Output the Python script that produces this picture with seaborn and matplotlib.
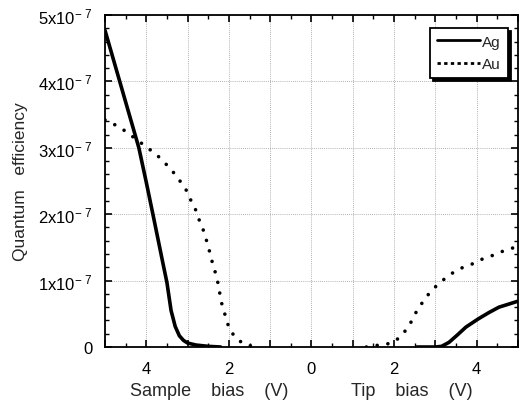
import numpy as np
import pandas as pd
import matplotlib
matplotlib.use("Agg")
import matplotlib.pyplot as plt
from matplotlib.lines import Line2D
from matplotlib.ticker import MultipleLocator, FuncFormatter
import seaborn as sns

# ---- data (bias in V; negative = sample bias, positive = tip bias; QE in 1e-7) ----
ag_sample_bias = [-5.0, -4.5, -4.18, -4.0, -3.84, -3.6, -3.5, -3.4, -3.3, -3.2, -3.1, -3.0, -2.8, -2.5, -2.2]
ag_sample_qe = [4.77, 3.69, 3.0, 2.48, 2.0, 1.27, 0.97, 0.55, 0.31, 0.17, 0.1, 0.06, 0.03, 0.01, 0.0]

ag_tip_bias = [2.55, 3.0, 3.15, 3.33, 3.53, 3.74, 4.03, 4.3, 4.54, 5.0]
ag_tip_qe = [0.0, 0.0, 0.01, 0.07, 0.18, 0.3, 0.42, 0.52, 0.6, 0.69]

au_sample_bias = [-5.0, -4.64, -4.42, -3.99, -3.74, -3.5, -3.33, -3.16, -3.02, -2.9, -2.8, -2.73,
                  -2.63, -2.56, -2.49, -2.44, -2.37, -2.32, -2.27, -2.18, -2.1, -2.05, -1.98,
                  -1.81, -1.59, -1.38]
au_sample_qe = [3.42, 3.31, 3.21, 3.01, 2.89, 2.74, 2.62, 2.48, 2.35, 2.18, 2.06, 1.93,
                1.78, 1.64, 1.5, 1.35, 1.22, 1.1, 0.98, 0.67, 0.5, 0.39, 0.26,
                0.12, 0.03, 0.01]

au_tip_bias = [1.33, 1.52, 1.81, 2.03, 2.22, 2.39, 2.51, 2.63, 2.8, 2.99, 3.21, 3.45, 3.67,
               3.89, 4.12, 4.35, 4.58, 4.8, 5.0]
au_tip_qe = [0.0, 0.02, 0.04, 0.09, 0.2, 0.35, 0.5, 0.62, 0.77, 0.9, 1.02, 1.13, 1.2,
             1.25, 1.32, 1.37, 1.43, 1.48, 1.51]

metals = ["Ag", "Au"]

sns.set_style("ticks")
plt.rcParams["font.family"] = ["Liberation Sans", "DejaVu Sans"]
plt.rcParams["mathtext.fontset"] = "custom"
plt.rcParams["mathtext.rm"] = "Liberation Sans"
plt.rcParams["mathtext.default"] = "regular"

fig = plt.figure(figsize=(5.19, 4.02), dpi=100)
ax = fig.add_axes([0.2023, 0.1343, 0.7957, 0.8259])

dotted = (0, (0.01, 3.0))
segments = [
    (ag_sample_bias, ag_sample_qe, "-", 2.6),
    (ag_tip_bias, ag_tip_qe, "-", 2.6),
    (au_sample_bias, au_sample_qe, dotted, 2.6),
    (au_tip_bias, au_tip_qe, dotted, 2.6),
]
for xs, ys, ls, lw in segments:
    df = pd.DataFrame({"bias": xs, "qe": np.array(ys) * 1e-7})
    sns.lineplot(data=df, x="bias", y="qe", ax=ax, color="black",
                 linestyle=ls, linewidth=lw, estimator=None, sort=False)
for ln in ax.get_lines():
    ln.set_dash_capstyle("round")
    ln.set_solid_capstyle("round")

ax.set_xlim(-5, 5)
ax.set_ylim(0, 5e-7)
ax.xaxis.set_major_locator(MultipleLocator(1))
ax.xaxis.set_minor_locator(MultipleLocator(0.5))
ax.yaxis.set_major_locator(MultipleLocator(1e-7))
ax.yaxis.set_minor_locator(MultipleLocator(0.2e-7))

def xfmt(v, pos):
    n = int(round(v))
    return str(abs(n)) if n % 2 == 0 and abs(n) < 5 else ""

def yfmt(v, pos):
    n = int(round(v / 1e-7))
    return "0" if n == 0 else f"{n}x10$^{{-\\ 7}}$"

ax.xaxis.set_major_formatter(FuncFormatter(xfmt))
ax.yaxis.set_major_formatter(FuncFormatter(yfmt))
ax.tick_params(which="both", direction="in", top=True, right=True, colors="black",
               labelsize=12)
ax.tick_params(which="major", length=5, width=1.2)
ax.tick_params(axis="x", which="major", pad=10)
ax.tick_params(axis="y", which="major", pad=9)
ax.tick_params(which="minor", length=3, width=1.0)
ax.grid(True, which="major", linestyle=(0, (1, 1.5)), color="#999999", linewidth=0.6)
for s in ax.spines.values():
    s.set_linewidth(1.3)
    s.set_color("black")

ax.set_xlabel("")
ax.set_ylabel("Quantum   efficiency", fontsize=12.5, labelpad=7)
ax.text(-2.47, -0.13, "Sample    bias    (V)", transform=ax.get_xaxis_transform(),
        ha="center", va="center", fontsize=13)
ax.text(2.42, -0.13, "Tip    bias    (V)", transform=ax.get_xaxis_transform(),
        ha="center", va="center", fontsize=13)

handles = [Line2D([], [], color="black", lw=2.0, linestyle="-"),
           Line2D([], [], color="black", lw=2.0, linestyle=(0, (1.2, 1.2)))]
leg = ax.legend(handles, metals, loc="upper right", bbox_to_anchor=(0.976, 0.961),
                fontsize=11, handlelength=2.8, handletextpad=0.15, borderpad=0.45,
                labelspacing=0.55, borderaxespad=0, fancybox=False, framealpha=1,
                edgecolor="black", shadow={"color": "black", "alpha": 1})
leg.get_frame().set_linewidth(1.3)

fig.savefig("out.png", dpi=100)
